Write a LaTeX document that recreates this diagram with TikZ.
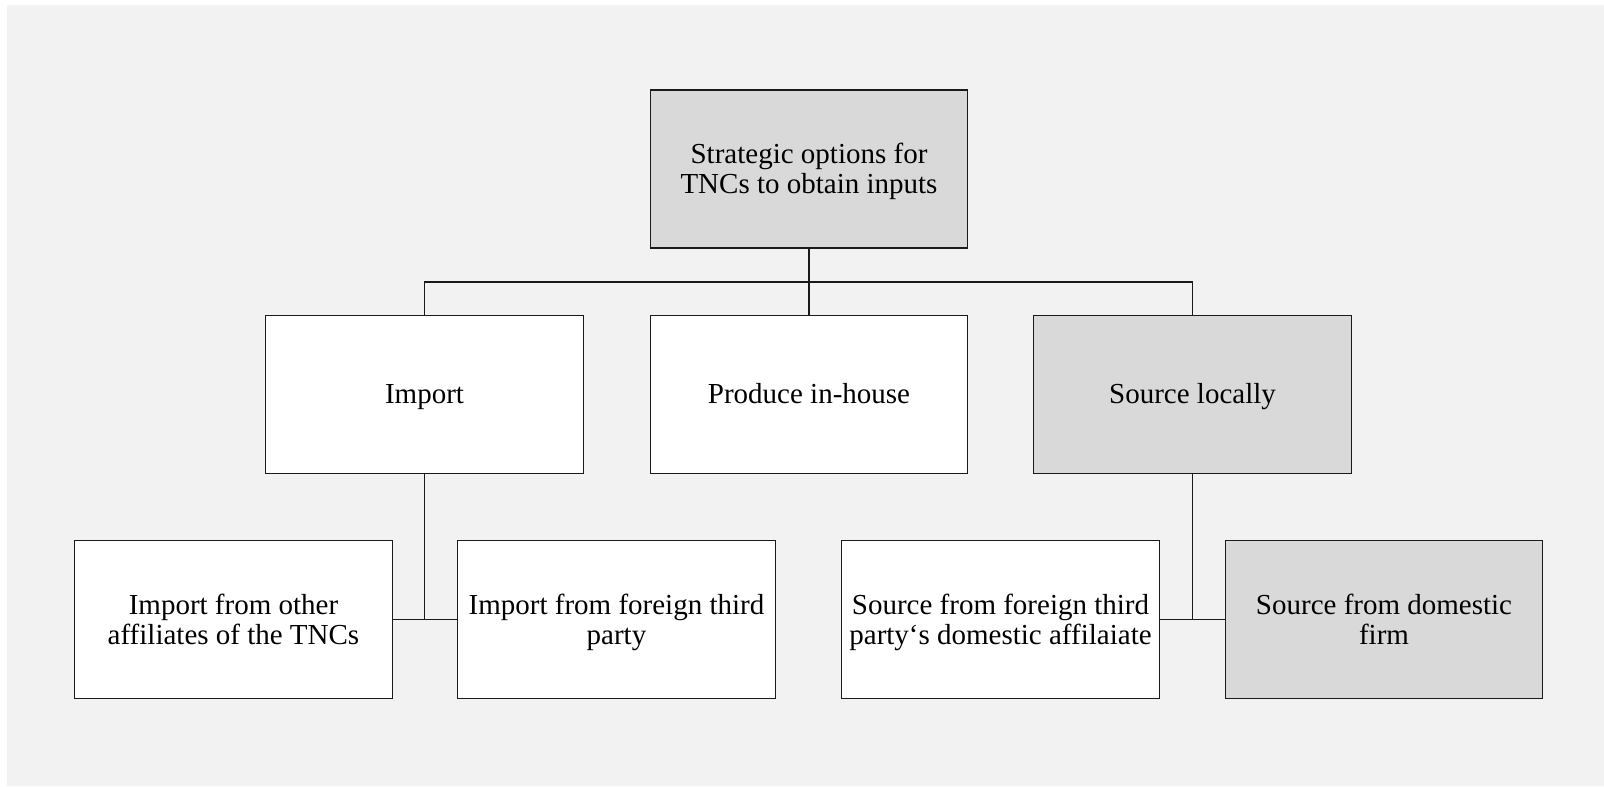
\documentclass[tikz,border=0pt]{standalone}
\usepackage{fontspec}
\setmainfont{Liberation Serif}
\definecolor{bgc}{HTML}{F2F2F2}
\definecolor{boxgray}{HTML}{D9D9D9}
\definecolor{edge}{HTML}{1A1A1A}
\newcommand\lineone[1]{\vphantom{I}\smash{#1}}
\newcommand\linetwo[2]{\vphantom{I}\smash{#1}\\\smash{#2}}
\tikzset{
  bx/.style={draw=edge, line width=0.65pt, fill=white, minimum width=158.75pt, minimum height=79pt,
     inner sep=0pt, align=center, font=\fontsize{14.5}{15}\selectfont},
  gbx/.style={bx, fill=boxgray},
  conn/.style={draw=edge, line width=0.65pt}
}
\begin{document}
\begin{tikzpicture}[x=0.5pt,y=-0.5pt]
\useasboundingbox (0,0) rectangle (1604,786);
\fill[white] (0,0) rectangle (1604,786);
\fill[bgc] (7,5) rectangle (1604,786);

\node[gbx] (top) at (809,169) {\linetwo{Strategic options for}{TNCs to obtain inputs}};
\node[bx] (imp) at (424.5,394.5) {\lineone{Import}};
\node[bx] (prod) at (809,394.5) {\lineone{Produce in-house}};
\node[gbx] (src) at (1192.5,394.5) {\lineone{Source locally}};
\node[bx] (a1) at (233.5,619.5) {\linetwo{Import from other}{affiliates of the TNCs}};
\node[bx] (a2) at (616.5,619.5) {\linetwo{Import from foreign third}{party}};
\node[bx] (b1) at (1000.5,619.5) {\linetwo{Source from foreign third}{party‘s domestic affilaiate}};
\node[gbx] (b2) at (1384,619.5) {\linetwo{Source from domestic}{firm}};

\coordinate (bus) at (809,282);
\draw[conn] (top.south) -- (bus);
\draw[conn] (imp.north) |- (bus) -| (src.north);
\draw[conn] (prod.north) -- (bus);

\coordinate (j1) at (imp.south |- a1.east);
\draw[conn] (imp.south) -- (j1);
\draw[conn] (a1.east) -- (a2.west);
\coordinate (j2) at (src.south |- b1.east);
\draw[conn] (src.south) -- (j2);
\draw[conn] (b1.east) -- (b2.west);
\end{tikzpicture}
\end{document}
